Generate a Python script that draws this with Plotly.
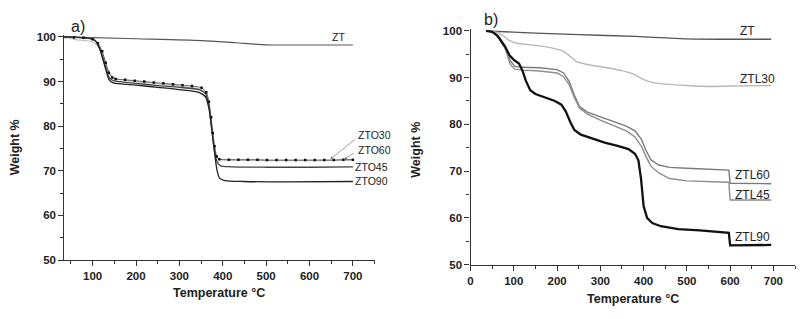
import plotly.graph_objects as go

W, H = 802, 319

# ---------------- Panel a) data ----------------
a_zt_x = [35, 200, 350, 430, 500, 600, 700]
a_zt_y = [100, 99.6, 99.2, 98.7, 98.25, 98.2, 98.2]

a_zto30_x = [35, 57, 79, 100, 112, 122, 130, 137, 145, 153, 175, 197, 219, 241, 263, 285, 307, 329, 351,
             362, 368, 373, 377, 381, 386, 392, 414, 436, 458, 480, 502, 524, 546, 568, 590, 612, 634, 656, 678, 700]
a_zto30_y = [100, 99.9, 99.8, 99.5, 98.6, 96.8, 94.2, 92.0, 90.9, 90.6, 90.4, 90.2, 90.0, 89.8, 89.6, 89.4, 89.2, 89.0, 88.6,
             87.6, 85.5, 82.0, 78.5, 75.5, 73.2, 72.6, 72.5, 72.5, 72.5, 72.5, 72.4, 72.4, 72.4, 72.4, 72.4, 72.4, 72.4, 72.4, 72.5, 72.5]

a_zto60_x = [35, 60, 90, 105, 115, 125, 135, 145, 155, 200, 250, 300, 345, 360, 368, 375, 381, 386, 392, 420, 500, 600, 700]
a_zto60_y = [100, 99.4, 99.1, 98.6, 97.5, 95.5, 92.8, 91.2, 90.6, 90.0, 89.5, 89.0, 88.4, 87.5, 85.0, 79.5, 75.5, 73.3, 72.6, 72.4, 72.3, 72.3, 72.4]

a_zto45_x = [35, 80, 100, 110, 120, 130, 138, 148, 200, 250, 300, 345, 360, 368, 375, 381, 387, 395, 420, 500, 600, 700]
a_zto45_y = [100, 99.8, 99.5, 98.7, 96.4, 93.2, 90.9, 90.2, 89.6, 89.1, 88.7, 88.2, 87.3, 84.5, 79.0, 74.5, 72.0, 71.1, 70.9, 70.8, 70.8, 70.9]

a_zto90_x = [35, 80, 100, 110, 120, 130, 138, 148, 200, 250, 300, 345, 360, 368, 375, 381, 387, 393, 405, 450, 550, 700]
a_zto90_y = [100, 99.8, 99.5, 98.8, 96.2, 92.8, 90.4, 89.7, 89.2, 88.7, 88.2, 87.6, 86.6, 84.0, 79.0, 74.0, 70.0, 68.3, 67.8, 67.6, 67.5, 67.6]

# ---------------- Panel b) data ----------------
b_zt_x = [36, 150, 250, 380, 450, 500, 600, 695]
b_zt_y = [100, 99.5, 99.2, 98.8, 98.5, 98.3, 98.2, 98.2]

b_ztl30_x = [36, 60, 75, 90, 110, 150, 190, 215, 232, 245, 270, 310, 350, 375, 395, 415, 450, 500, 550, 600, 695]
b_ztl30_y = [100, 99.7, 99.0, 97.9, 97.3, 96.9, 96.3, 95.6, 94.4, 93.4, 92.8, 92.2, 91.5, 90.8, 89.8, 89.1, 88.6, 88.3, 88.1, 88.2, 88.3]

b_ztl60_x = [36, 50, 65, 80, 92, 102, 120, 160, 200, 215, 228, 240, 252, 270, 300, 330, 360, 380, 395, 405, 417, 435, 460, 500, 550, 597, 600, 650, 695]
b_ztl60_y = [100, 99.8, 98.8, 96.8, 93.6, 92.4, 92.2, 92.1, 91.7, 91.0, 89.2, 86.2, 83.8, 82.6, 81.6, 80.6, 79.6, 78.6, 76.8, 74.5, 72.4, 71.3, 70.8, 70.6, 70.4, 70.2, 67.4, 67.3, 67.3]

b_ztl45_x = [36, 50, 65, 80, 92, 102, 120, 160, 200, 215, 228, 240, 252, 270, 300, 330, 360, 380, 395, 405, 417, 435, 460, 500, 550, 597, 600, 650, 695]
b_ztl45_y = [100, 99.8, 98.5, 96.2, 92.8, 91.8, 91.6, 91.4, 91.0, 90.2, 88.5, 85.7, 83.5, 82.2, 80.9, 79.8, 78.6, 77.3, 75.3, 73.2, 71.0, 69.6, 68.4, 67.9, 67.7, 67.6, 63.8, 63.8, 63.8]

b_ztl90_x = [36, 50, 62, 72, 80, 90, 100, 112, 120, 128, 138, 150, 170, 195, 210, 220, 230, 240, 255, 280, 310, 340, 365, 380, 388, 394, 400, 408, 420, 440, 480, 530, 597, 600, 650, 695]
b_ztl90_y = [100, 99.8, 99.0, 97.8, 96.6, 94.8, 93.8, 93.0, 91.5, 89.3, 87.3, 86.5, 85.8, 85.0, 84.2, 82.8, 80.6, 78.8, 77.8, 77.0, 76.1, 75.4, 74.7, 73.7, 72.3, 68.4, 62.5, 60.0, 58.9, 58.2, 57.6, 57.3, 56.8, 54.1, 54.1, 54.2]

y_ticks = [50, 60, 70, 80, 90, 100]
a_x_ticks = [100, 200, 300, 400, 500, 600, 700]
b_x_ticks = [0, 100, 200, 300, 400, 500, 600, 700]

FONT = "Liberation Sans, Arial, sans-serif"

fig = go.Figure()


def line(x, y, color, width, xa, ya, shape="spline", mode="lines", marker=None):
    d = dict(x=x, y=y, mode=mode, xaxis=xa, yaxis=ya, showlegend=False, hoverinfo="skip",
             line=dict(color=color, width=width, shape=shape, smoothing=0.7 if shape == "spline" else None))
    if marker:
        d["marker"] = marker
    fig.add_trace(go.Scatter(**d))


# panel a
line(a_zt_x, a_zt_y, "#555555", 1.2, "x", "y")
line(a_zto60_x, a_zto60_y, "#bdbdbd", 1.2, "x", "y")
line(a_zto45_x, a_zto45_y, "#444444", 1.3, "x", "y")
line(a_zto90_x, a_zto90_y, "#222222", 1.3, "x", "y")
line(a_zto30_x, a_zto30_y, "#444444", 0.8, "x", "y", mode="lines+markers",
     marker=dict(symbol="square", size=2.5, color="#111111"))

# panel b
line(b_zt_x, b_zt_y, "#555555", 1.3, "x2", "y2")
line(b_ztl30_x, b_ztl30_y, "#b8b8b8", 1.4, "x2", "y2")
line(b_ztl60_x, b_ztl60_y, "#7a7a7a", 1.4, "x2", "y2", shape="linear")
line(b_ztl45_x, b_ztl45_y, "#8c8c8c", 1.4, "x2", "y2", shape="linear")
line(b_ztl90_x, b_ztl90_y, "#111111", 2.3, "x2", "y2", shape="linear")

axis_common = dict(showline=True, linecolor="#333333", linewidth=1.4, ticks="outside", ticklen=5,
                   tickwidth=1.3, tickcolor="#333333", showgrid=False, zeroline=False,
                   tickfont=dict(family=FONT, size=11.5, color="#222222", weight="bold"))

fig.update_layout(
    width=W, height=H, margin=dict(l=0, r=0, t=0, b=0),
    paper_bgcolor="white", plot_bgcolor="white",
    xaxis=dict(domain=[61.7 / W, 373 / W], range=[35, 750], tickvals=a_x_ticks, anchor="y",
               minor=dict(dtick=50, tick0=0, ticks="outside", ticklen=3, tickcolor="#333333"), **axis_common),
    yaxis=dict(domain=[1 - 264.3 / H, 1 - 32.2 / H], range=[50, 100.4], tickvals=y_ticks, anchor="x",
               minor=dict(dtick=5, tick0=0, ticks="outside", ticklen=3, tickcolor="#333333"), **axis_common),
    xaxis2=dict(domain=[469.3 / W, 795 / W], range=[0, 750], tickvals=b_x_ticks, anchor="y2",
                minor=dict(dtick=50, tick0=0, ticks="outside", ticklen=3, tickcolor="#333333"), **axis_common),
    yaxis2=dict(domain=[1 - 269 / H, 1 - 25.8 / H], range=[50, 100.4], tickvals=y_ticks, anchor="x2",
                minor=dict(dtick=5, tick0=0, ticks="outside", ticklen=3, tickcolor="#333333"), **axis_common),
)


def txt(text, x, y, size, bold=False, angle=0, color="#222222", xanchor="center"):
    fig.add_annotation(text=text, x=x / W, y=1 - y / H, xref="paper", yref="paper", showarrow=False,
                       xanchor=xanchor, yanchor="middle", textangle=angle,
                       font=dict(family=FONT, size=size, color=color, weight="bold" if bold else "normal"))


# axis titles
txt("Temperature °C", 217, 298, 12.5, bold=True)
txt("Temperature °C", 632, 305, 12.5, bold=True)
txt("Weight %", 12, 148, 12.5, bold=True, angle=-90)
txt("Weight %", 415, 150, 12.5, bold=True, angle=-90)

# panel labels
txt("a)", 75, 23, 16)
txt("b)", 490, 16, 16)

# curve labels panel a
txt("ZT", 337, 34, 10.5)
txt("ZTO30", 354, 135, 10.5, xanchor="left")
txt("ZTO60", 354, 151, 10.5, xanchor="left")
txt("ZTO45", 351, 168, 10.5, xanchor="left")
txt("ZTO90", 351, 183, 10.5, xanchor="left")

# arrows for ZTO30 / ZTO60
fig.add_annotation(x=648, y=72.6, xref="x", yref="y", ax=353 - 327, ay=139 - 160,
                   text="", showarrow=True, arrowhead=2, arrowsize=0.8, arrowwidth=0.7, arrowcolor="#777777")
fig.add_annotation(x=680, y=72.6, xref="x", yref="y", ax=352 - 341, ay=153 - 160,
                   text="", showarrow=True, arrowhead=2, arrowsize=0.8, arrowwidth=0.7, arrowcolor="#777777")

# curve labels panel b
txt("ZT", 747, 28, 12)
txt("ZTL30", 757, 77, 12)
txt("ZTL60", 752, 177, 12)
txt("ZTL45", 752, 197, 12)
txt("ZTL90", 752, 241, 12)

fig.write_html("out.html", config={"displayModeBar": False},
               post_script="document.body.style.margin='0px';document.body.style.overflow='hidden';")
